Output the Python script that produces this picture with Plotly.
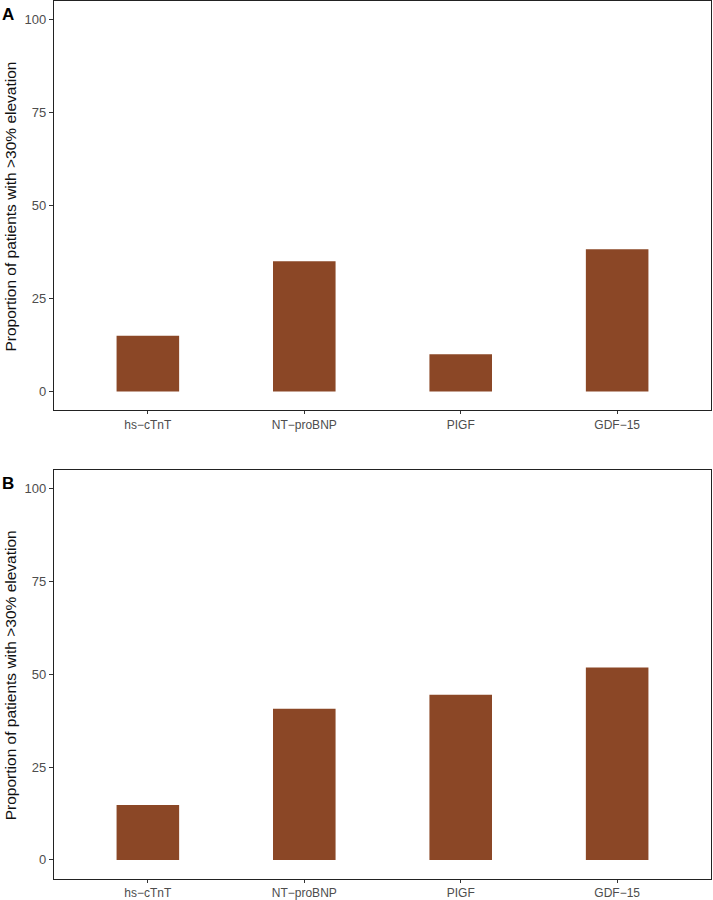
import plotly.graph_objects as go
from plotly.subplots import make_subplots

categories = ["hs\u2212cTnT", "NT\u2212proBNP", "PIGF", "GDF\u221215"]
values_a = [15, 35, 10, 38.2]
values_b = [14.8, 40.7, 44.5, 51.8]
y_ticks = [0, 25, 50, 75, 100]
panel_labels = ["A", "B"]
y_title = "Proportion of patients with >30% elevation"

W, H = 713, 900
FONT = "Liberation Sans, Arial, sans-serif"
BAR = "#8B4726"

fig = make_subplots(rows=2, cols=1)

for i, vals in enumerate([values_a, values_b], start=1):
    fig.add_trace(go.Bar(x=categories, y=vals, width=0.4, marker=dict(color=BAR, line=dict(width=0)),
                         showlegend=False, hoverinfo="x+y"), row=i, col=1)

x0, x1 = 54 / W, 711 / W
doms = [(1 - 410 / H, 1 - 1 / H), (1 - 878.5 / H, 1 - 470 / H)]
tops = [1, 470]
bots = [410, 878.5]

for i in range(2):
    suf = "" if i == 0 else "2"
    fig.layout["xaxis" + suf].update(
        domain=[x0, x1], range=[-0.6, 3.6], showline=True, linecolor="#222", linewidth=1.2,
        mirror=True, ticks="outside", ticklen=3, tickcolor="#333", tickwidth=1,
        ticklabelstandoff=0,
        tickfont=dict(family=FONT, size=12, color="#4D4D4D"), showgrid=False, zeroline=False,
        automargin=False, fixedrange=True)
    fig.layout["yaxis" + suf].update(
        domain=list(doms[i]), range=[-5, 105], tickvals=y_ticks, showline=True, linecolor="#222",
        linewidth=1.2, mirror=True, ticks="outside", ticklen=4, tickcolor="#333", tickwidth=1,
        tickfont=dict(family=FONT, size=13, color="#4D4D4D"), showgrid=False, zeroline=False,
        automargin=False, fixedrange=True)
    mid = (tops[i] + bots[i]) / 2
    fig.add_annotation(text=y_title, xref="paper", yref="paper", x=10 / W, y=1 - (mid + 1) / H,
                       textangle=-90, showarrow=False, xanchor="center", yanchor="middle",
                       font=dict(family=FONT, size=15.5, color="#111"))
    fig.add_annotation(text="<b>" + panel_labels[i] + "</b>", xref="paper", yref="paper",
                       x=0 / W, y=1 - (tops[i] + 2) / H, showarrow=False, xanchor="left", yanchor="top",
                       font=dict(family=FONT, size=17, color="#000"))

fig.update_layout(width=W, height=H, margin=dict(l=0, r=0, t=0, b=0),
                  plot_bgcolor="white", paper_bgcolor="white", bargap=0.6)

fig.write_html("out.html", config={"displayModeBar": False},
               post_script="document.body.style.margin='0';")
